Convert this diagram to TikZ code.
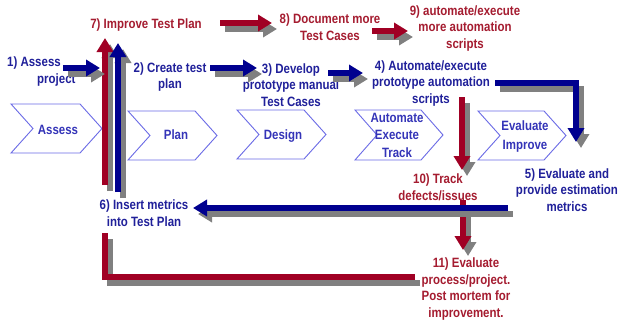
\documentclass[tikz,border=0pt]{standalone}
\usepackage{fontspec}
\setmainfont{Liberation Sans}[FakeStretch=0.85]
\usetikzlibrary{arrows.meta}

\definecolor{flowred}{HTML}{A00024}
\definecolor{flowblue}{HTML}{00008F}
\definecolor{flowshadow}{HTML}{808080}
\definecolor{labelblue}{HTML}{20209A}
\definecolor{labelred}{HTML}{A51C30}
\definecolor{stageblue}{HTML}{3434B8}
\definecolor{stageline}{HTML}{6B6BE6}

% chevron outline: left x, top y, tip x, bottom y
\newcommand\chevbox[4]{%
  \draw[stagebox] (#1,#2) -- ({#3-22},#2) -- (#3,{(#2+#4)/2}) -- ({#3-22},#4)
    -- (#1,#4) -- ({#1+22},{(#2+#4)/2}) -- cycle;}

% thick arrow with a grey cast shadow below right
\newcommand\flowpath[3]{%
  \draw[flow,#2,draw=flowshadow,transform canvas={xshift=5pt,yshift=-6pt}] #3;
  \draw[flow,#2,draw=#1] #3;}

\begin{document}
\begin{tikzpicture}[x=1pt,y=-1pt,
  every node/.style={font=\bfseries\fontsize{13.5}{16.8}\selectfont,
    align=center, inner sep=0pt},
  bluelabel/.style={text=labelblue},
  redlabel/.style={text=labelred},
  stagetext/.style={text=stageblue},
  stagebox/.style={draw=stageline, line width=0.9pt, line join=miter},
  flow/.style={line width=5.5pt, line cap=butt, line join=miter},
  head/.style={-{Triangle[width=16pt,length=14pt]}}]

\fill[white] (0,0) rectangle (619,327);
\useasboundingbox (0,0) rectangle (619,327);

% stage chevrons
\chevbox{11}{104}{102}{153}
\chevbox{128}{111}{217}{160}
\chevbox{237}{110}{326}{159}
\chevbox{355}{110}{443}{160}
\chevbox{478}{111}{566}{160}

\node[stagetext] (sAssess) at (58,130) {Assess};
\node[stagetext] (sPlan) at (176,135) {Plan};
\node[stagetext] (sDesign) at (283,136) {Design};
\node[stagetext, font=\bfseries\fontsize{13.5}{17.5}\selectfont] (sTrack) at (397,135) {Automate\\Execute\\Track};
\node[stagetext, font=\bfseries\fontsize{13.5}{19}\selectfont] (sEval) at (525,136.5) {Evaluate\\Improve};

% step labels
\node[bluelabel, anchor=west, align=left] (l1) at (7,71.5) {1) Assess\\\hspace*{30pt}project};
\node[bluelabel] (l2) at (170,77) {2) Create test\\plan};
\node[bluelabel] (l3) at (291,85) {3) Develop\\prototype manual\\Test Cases};
\node[bluelabel] (l4) at (431,83.5) {4) Automate/execute\\prototype automation\\scripts};
\node[bluelabel] (l5) at (567,190) {5) Evaluate and\\provide estimation\\metrics};
\node[bluelabel] (l6) at (144,213) {6) Insert metrics\\into Test Plan};
\node[redlabel] (l7) at (146,25) {7) Improve Test Plan};
\node[redlabel] (l8) at (330,27) {8) Document more\\Test Cases};
\node[redlabel] (l9) at (465,28.5) {9) automate/execute\\more automation\\scripts};
\node[redlabel] (l10) at (438,187) {10) Track\\defects/issues};
\node[redlabel] (l11) at (466,289) {11) Evaluate\\process/project.\\Post mortem for\\improvement.};

% connector end points
\coordinate (a1s) at (63,68);   \coordinate (a1e) at (100,68);
\coordinate (a2s) at (210,68);  \coordinate (a2e) at (257,68);
\coordinate (a3s) at (328,73);  \coordinate (a3e) at (363,73);
\coordinate (a4s) at (495,83);  \coordinate (a4c) at (576,83);  \coordinate (a4e) at (576,142);
\coordinate (a5s) at (508,208); \coordinate (a5e) at (193,208);
\coordinate (b6s) at (118,192); \coordinate (b6e) at (118,43);
\coordinate (r7s) at (105,185); \coordinate (r7e) at (105,38);
\coordinate (r11s) at (415,277); \coordinate (r11c) at (105,277); \coordinate (r11e) at (105,233);
\coordinate (r8s) at (220,23);  \coordinate (r8e) at (272,23);
\coordinate (r9s) at (372,31);  \coordinate (r9e) at (408,31);
\coordinate (r10s) at (462,97); \coordinate (r10e) at (462,170);
\coordinate (r12s) at (463,200); \coordinate (r12e) at (463,250);

% red feedback loop and red steps
\flowpath{flowred}{}{(r11s) -- (r11c) -- (r11e)}
\flowpath{flowred}{head}{(r7s) -- (r7e)}
\flowpath{flowred}{head}{(r8s) -- (r8e)}
\flowpath{flowred}{head}{(r9s) -- (r9e)}
\flowpath{flowred}{head}{(r10s) -- (r10e)}
\flowpath{flowred}{head}{(r12s) -- (r12e)}

% blue steps
\flowpath{flowblue}{head}{(b6s) -- (b6e)}
\flowpath{flowblue}{head}{(a1s) -- (a1e)}
\flowpath{flowblue}{head}{(a2s) -- (a2e)}
\flowpath{flowblue}{head}{(a3s) -- (a3e)}
\flowpath{flowblue}{head}{(a4s) -- (a4c) -- (a4e)}
\flowpath{flowblue}{head}{(a5s) -- (a5e)}

\end{tikzpicture}
\end{document}
